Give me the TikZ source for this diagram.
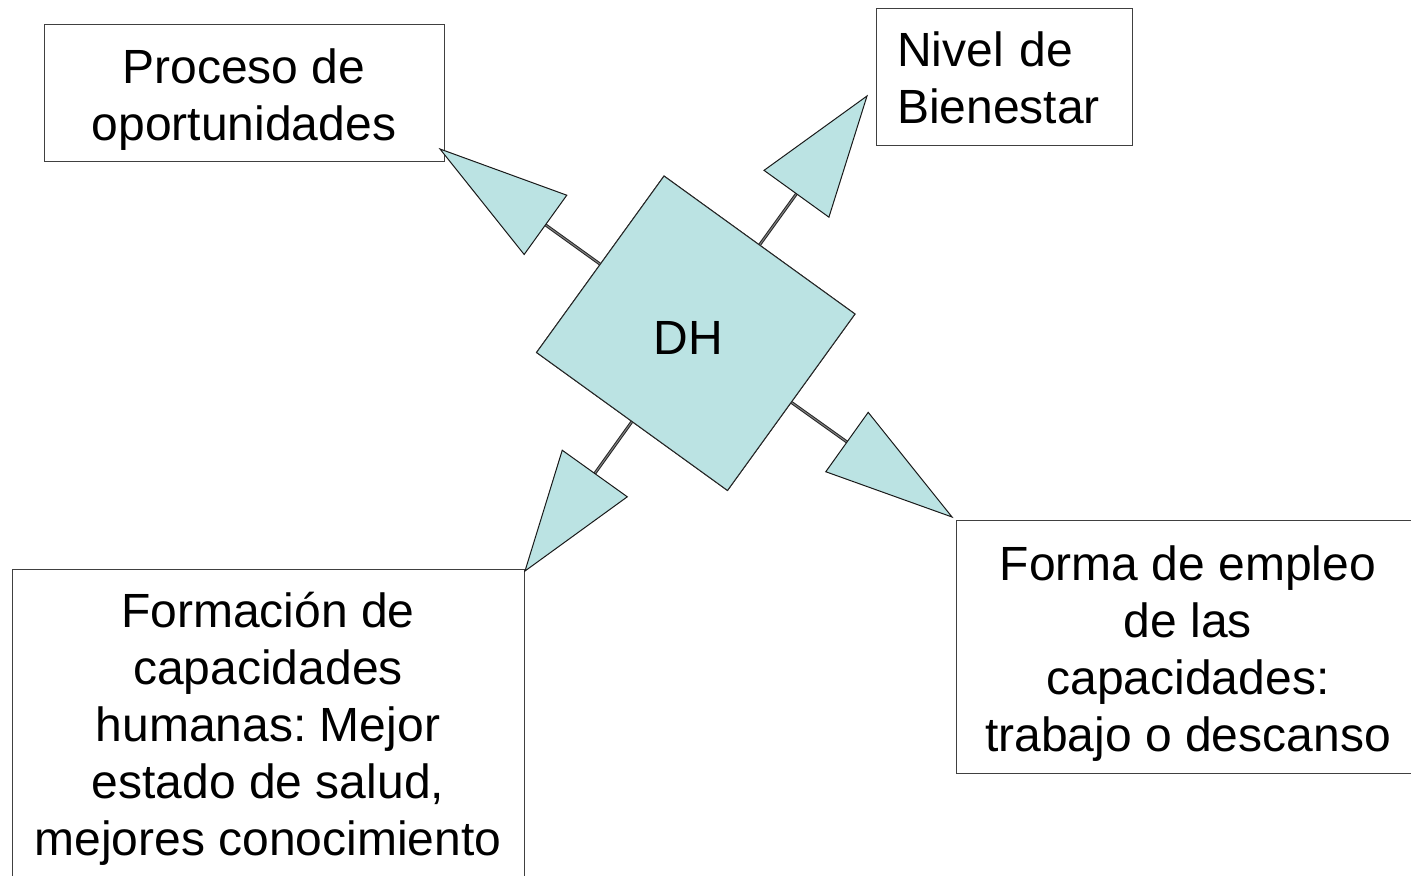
\documentclass[tikz,border=0pt]{standalone}
\usepackage{fontspec}
\setmainfont{Liberation Sans}
\usetikzlibrary{calc}
\definecolor{dhcyan}{RGB}{187,227,227}
\frenchspacing
\begin{document}
\begin{tikzpicture}[x=0.5pt,y=-0.5pt,
  boxframe/.style={draw=black!75, line width=0.5pt, fill=white, inner sep=0pt},
  boxtext/.style={inner sep=0pt, font=\fontsize{24}{28.5}\selectfont, align=center},
  dhshape/.style={draw=black!85, line width=0.5pt, fill=dhcyan, inner sep=0pt,
    rotate=-35.85, minimum width=117.8pt, minimum height=108.85pt},
  stem/.style={draw=black!85, double=black!50, line width=0.5pt, double distance=0.5pt},
  tri/.style={draw=black!90, line width=0.5pt, fill=dhcyan, line join=miter}
]
\useasboundingbox (0,0) rectangle (1411,876);
\begin{scope}
\clip (0,0) rectangle (1411,876);
\fill[white] (0,0) rectangle (1411,876);

% boxes
\node[boxframe, minimum width=200pt, minimum height=68.5pt] (proc) at (244,93.5) {};
\node[boxtext] (proct) at ($(proc.center)+(0,6)$) {Proceso de\\oportunidades};

\node[boxframe, minimum width=128pt, minimum height=68.5pt] (niv) at (1004,77.5) {};
\node[boxtext, text width=107pt, align=left] (nivt) at (niv.center) {Nivel de\\Bienestar};

\node[boxframe, minimum width=256pt, minimum height=156.5pt] (form) at (268,725.5) {};
\node[boxtext] (formt) at ($(form.center)+(0,3)$)
  {Formación de\\capacidades\\humanas: Mejor\\estado de salud,\\mejores conocimiento};

\node[boxframe, minimum width=232pt, minimum height=126.5pt] (emp) at (1188,646.5) {};
\node[boxtext] (empt) at ($(emp.center)+(0,7)$)
  {Forma de empleo\\de las\\capacidades:\\trabajo o descanso};

% central shape
\node[dhshape] (sq) at (695.75,333.25) {};

% arrow tips
\coordinate (tUL) at (440,149);
\coordinate (tUR) at (867,96);
\coordinate (tLL) at (525,571);
\coordinate (tLR) at (952,517);

% stem ends (triangle base midpoints)
\coordinate (bUL) at ($(sq.west)!33.5pt!(tUL)$);
\coordinate (bUR) at ($(sq.north)!31.35pt!(tUR)$);
\coordinate (bLL) at ($(sq.south)!31.75pt!(tLL)$);
\coordinate (bLR) at ($(sq.east)!34pt!(tLR)$);

% stems
\draw[stem] (sq.west) -- (bUL);
\draw[stem] (sq.north) -- (bUR);
\draw[stem] (sq.south) -- (bLL);
\draw[stem] (sq.east) -- (bLR);

% triangles
\draw[tri] (tUL) -- ($(bUL)!18.25pt!90:(tUL)$) -- ($(bUL)!18.25pt!-90:(tUL)$) -- cycle;
\draw[tri] (tUR) -- ($(bUR)!20pt!90:(tUR)$) -- ($(bUR)!20pt!-90:(tUR)$) -- cycle;
\draw[tri] (tLL) -- ($(bLL)!20pt!90:(tLL)$) -- ($(bLL)!20pt!-90:(tLL)$) -- cycle;
\draw[tri] (tLR) -- ($(bLR)!18.25pt!90:(tLR)$) -- ($(bLR)!18.25pt!-90:(tLR)$) -- cycle;

% redraw square on top of stem ends
\node[dhshape] at (sq.center) {};
\node[boxtext] (dh) at (688,338) {DH};
\end{scope}
\end{tikzpicture}
\end{document}
